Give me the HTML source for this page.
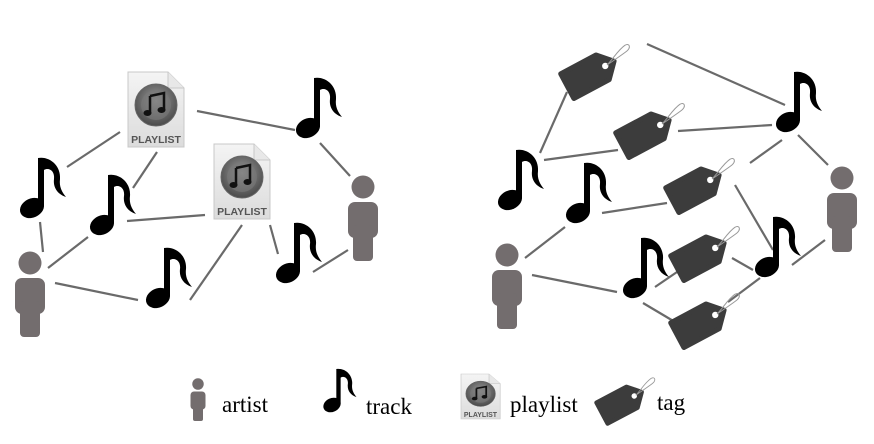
<!DOCTYPE html>
<html><head><meta charset="utf-8"><style>
html,body{margin:0;padding:0;background:#fff;}
svg{display:block;}
.pl{font-family:"Liberation Sans",sans-serif;font-weight:bold;fill:#555;}
.lg{font-family:"Liberation Serif",serif;font-size:23px;fill:#000;}
</style></head><body>
<svg width="874" height="444" viewBox="0 0 874 444" xmlns="http://www.w3.org/2000/svg">
<defs>
<g id="note">
<ellipse cx="0" cy="0" rx="12.5" ry="9.5" transform="rotate(-25)" fill="#000"/>
<rect x="6" y="-50" width="6" height="48" fill="#000"/>
<path d="M6,-50 C18,-52 29,-42 28,-29 C27,-21 30,-16 34,-11 C25,-14 21,-21 22,-29 C23,-37 17,-41 12,-38 Z" fill="#000"/>
</g>
<g id="person" fill="#736d6e">
<circle cx="0" cy="0" r="11.5"/>
<rect x="-15" y="15" width="30" height="36" rx="7"/>
<rect x="-10" y="38" width="20" height="36" rx="4"/>
</g>
<g id="tag">
<path d="M-28,-14 L12,-14 L25,0 L12,14 L-28,14 Z" fill="#3c3c3c" stroke="#3c3c3c" stroke-width="5" stroke-linejoin="round"/>
<circle cx="15" cy="0" r="3.2" fill="#fff"/>
<path d="M17,0 C26,-3 34,-8 42,-9 C48,-9 46,-4 41,-3 C35,-2 26,-1 17,0" fill="none" stroke="#999" stroke-width="1"/>
</g>
<linearGradient id="pg" x1="0" y1="0" x2="0" y2="1"><stop offset="0" stop-color="#f4f4f4"/><stop offset="1" stop-color="#dcdcdc"/></linearGradient>
<radialGradient id="cg" cx="0.5" cy="0.4" r="0.6"><stop offset="0" stop-color="#9a9a9a"/><stop offset="1" stop-color="#4a4a4a"/></radialGradient>
<g id="plbox">
<path d="M0,0 L40,0 L56,16 L56,75 L0,75 Z" fill="url(#pg)" stroke="#c8c8c8" stroke-width="1"/>
<path d="M40,0 L40,16 L56,16" fill="#e8e8e8" stroke="#c8c8c8"/>
<circle cx="28" cy="33" r="21" fill="url(#cg)" stroke="#666" stroke-width="1"/>
<circle cx="28" cy="33" r="15" fill="#7a7a7a" opacity="0.6"/>
<path d="M22,24 L36,21 L36,38" stroke="#111" stroke-width="2.5" fill="none"/>
<line x1="22" y1="24" x2="22" y2="41" stroke="#111" stroke-width="2.5"/>
<ellipse cx="19.5" cy="41" rx="4" ry="3" fill="#111"/>
<ellipse cx="33.5" cy="38" rx="4" ry="3" fill="#111"/>
</g>
</defs>

<g stroke="#6a6a6a" stroke-width="2.2" fill="none">
<line x1="197" y1="111" x2="295" y2="130"/>
<line x1="67" y1="167" x2="120" y2="132"/>
<line x1="157" y1="152" x2="133" y2="188"/>
<line x1="127" y1="221" x2="205" y2="215"/>
<line x1="40" y1="222" x2="43" y2="252"/>
<line x1="48" y1="268" x2="88" y2="237"/>
<line x1="55" y1="283" x2="138" y2="300"/>
<line x1="190" y1="300" x2="242" y2="225"/>
<line x1="270" y1="225" x2="278" y2="254"/>
<line x1="313" y1="272" x2="348" y2="250"/>
<line x1="320" y1="143" x2="350" y2="176"/>

<line x1="647" y1="44" x2="785" y2="105"/>
<line x1="567" y1="92" x2="540" y2="153"/>
<line x1="544" y1="160" x2="618" y2="150"/>
<line x1="678" y1="131" x2="772" y2="125"/>
<line x1="750" y1="163" x2="782" y2="140"/>
<line x1="798" y1="135" x2="828" y2="165"/>
<line x1="602" y1="213" x2="667" y2="203"/>
<line x1="525" y1="258" x2="565" y2="227"/>
<line x1="532" y1="275" x2="617" y2="292"/>
<line x1="655" y1="287" x2="677" y2="272"/>
<line x1="643" y1="303" x2="675" y2="322"/>
<line x1="732" y1="258" x2="753" y2="270"/>
<line x1="728" y1="302" x2="760" y2="278"/>
<line x1="735" y1="185" x2="773" y2="250"/>
<line x1="792" y1="265" x2="825" y2="240"/>
</g>

<g transform="translate(128,72)"><use href="#plbox"/><text class="pl" x="28" y="71" font-size="10.5" text-anchor="middle">PLAYLIST</text></g>
<g transform="translate(214,144)"><use href="#plbox"/><text class="pl" x="28" y="71" font-size="10.5" text-anchor="middle">PLAYLIST</text></g>
<use href="#note" transform="translate(308,128)"/>
<use href="#note" transform="translate(32,208)"/>
<use href="#note" transform="translate(102,225)"/>
<use href="#note" transform="translate(158,298)"/>
<use href="#note" transform="translate(288,273)"/>
<use href="#person" transform="translate(30,263)"/>
<use href="#person" transform="translate(363,187)"/>

<use href="#tag" transform="translate(592,73) rotate(-28)"/>
<use href="#tag" transform="translate(647,132) rotate(-28)"/>
<use href="#tag" transform="translate(697,187) rotate(-28)"/>
<use href="#tag" transform="translate(702,255) rotate(-28)"/>
<use href="#tag" transform="translate(702,322) rotate(-28)"/>
<use href="#note" transform="translate(788,122)"/>
<use href="#note" transform="translate(510,200)"/>
<use href="#note" transform="translate(578,213)"/>
<use href="#note" transform="translate(635,288)"/>
<use href="#note" transform="translate(767,267)"/>
<use href="#person" transform="translate(507,255)"/>
<use href="#person" transform="translate(842,178)"/>

<use href="#person" transform="translate(198,384) scale(0.5)"/>
<text class="lg" x="222" y="412">artist</text>
<use href="#note" transform="translate(332,405) scale(0.72)"/>
<text class="lg" x="366" y="414">track</text>
<g transform="translate(461,374) scale(0.7,0.6)"><use href="#plbox"/></g>
<text class="pl" x="480.5" y="417" font-size="7" text-anchor="middle">PLAYLIST</text>
<text class="lg" x="510" y="412">playlist</text>
<use href="#tag" transform="translate(623,402) rotate(-28) scale(0.85)"/>
<text class="lg" x="657" y="410">tag</text>
</svg>
</body></html>
